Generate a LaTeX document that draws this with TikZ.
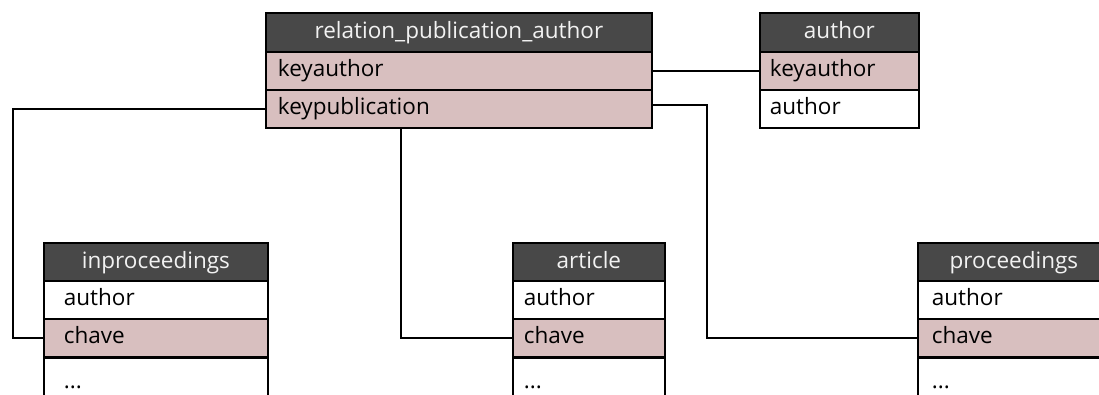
\documentclass[tikz,border=0pt]{standalone}
\usepackage{fontspec}
\setmainfont{Open Sans}
\definecolor{hdrgray}{HTML}{484848}
\definecolor{hdrtext}{HTML}{F2F2F2}
\definecolor{keypink}{HTML}{D8BFBF}
\tikzset{
  tbl/.style={draw=black, line width=1.8pt, inner ysep=0pt, anchor=north west,
    font=\fontsize{22.5}{27}\selectfont, text height=16pt, text depth=4pt},
  hdr/.style={tbl, fill=hdrgray, text=hdrtext, minimum height=39pt, align=center},
  fld/.style={tbl, fill=white, minimum height=38pt, align=left},
  keyfld/.style={fld, fill=keypink},
  link/.style={draw=black, line width=1.8pt}
}
\begin{document}
\begin{tikzpicture}[x=1pt,y=-1pt]
\clip (0,0) rectangle (1099,394);
\fill[white] (0,0) rectangle (1099,394);
% relation_publication_author
\node[hdr, minimum width=386pt, inner xsep=0pt] (relh) at (265,12) {relation\_publication\_author};
\node[keyfld, text width=362pt, inner xsep=12pt] (rel1) at (265,51) {keyauthor};
\node[keyfld, text width=362pt, inner xsep=12pt] (rel2) at (265,89) {keypublication};
% author
\node[hdr, minimum width=159pt, inner xsep=0pt] (auh) at (759,12) {author};
\node[keyfld, text width=139pt, inner xsep=10pt] (au1) at (759,51) {keyauthor};
\node[fld, text width=139pt, inner xsep=10pt] (au2) at (759,89) {author};
% inproceedings
\node[hdr, minimum width=224pt, inner xsep=0pt] (inh) at (43,242) {inproceedings};
\node[fld, text width=184pt, inner xsep=20pt] (in1) at (43,280) {author};
\node[keyfld, text width=184pt, inner xsep=20pt] (in2) at (43,318) {chave};
\node[fld, text width=184pt, inner xsep=20pt, minimum height=50pt] (in3) at (43,357) {...};
% article
\node[hdr, minimum width=152pt, inner xsep=0pt] (arh) at (512,242) {article};
\node[fld, text width=130pt, inner xsep=11pt] (ar1) at (512,280) {author};
\node[keyfld, text width=130pt, inner xsep=11pt] (ar2) at (512,318) {chave};
\node[fld, text width=130pt, inner xsep=11pt, minimum height=50pt] (ar3) at (512,357) {...};
% proceedings
\node[hdr, minimum width=192pt, inner xsep=0pt] (prh) at (917,242) {proceedings};
\node[fld, text width=164pt, inner xsep=14pt] (pr1) at (917,280) {author};
\node[keyfld, text width=164pt, inner xsep=14pt] (pr2) at (917,318) {chave};
\node[fld, text width=164pt, inner xsep=14pt, minimum height=50pt] (pr3) at (917,357) {...};
% connectors
\draw[link] (rel1.east) -- (au1.west);
\draw[link] ([yshift=4pt]rel2.east) -- ++(54,0) |- (pr2.west);
\draw[link] (rel2.west) -- ++(-252,0) |- (in2.west);
\draw[link] ([xshift=-58pt]rel2.south) |- (ar2.west);
\end{tikzpicture}
\end{document}
